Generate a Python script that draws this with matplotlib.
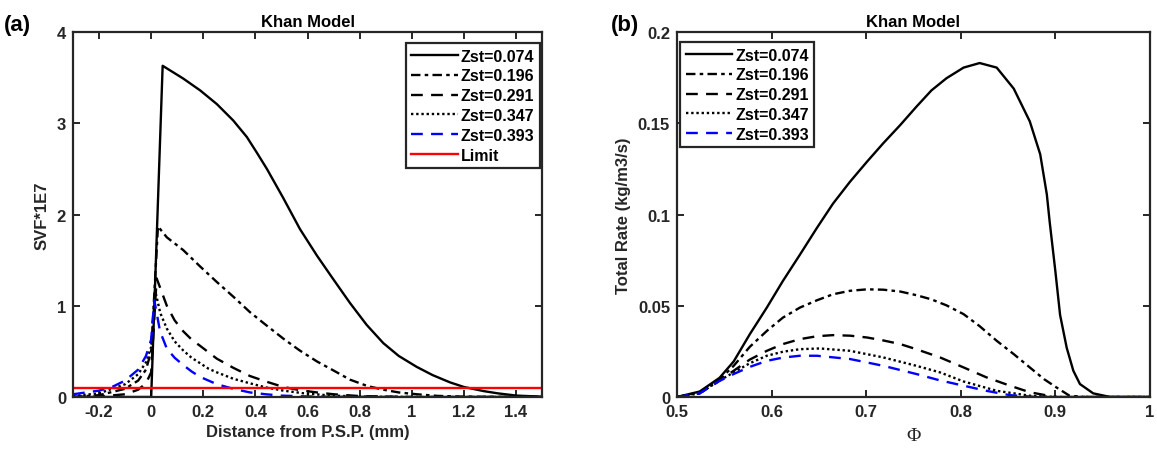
import numpy as np
import matplotlib
matplotlib.use("Agg")
import matplotlib.pyplot as plt

plt.rcParams["font.family"] = ["Liberation Sans", "DejaVu Sans"]
plt.rcParams["font.weight"] = "bold"
plt.rcParams["axes.labelweight"] = "bold"
plt.rcParams["axes.titleweight"] = "bold"

labels = ["Zst=0.074", "Zst=0.196", "Zst=0.291", "Zst=0.347", "Zst=0.393"]
limit_val = 0.1

# (a) SVF*1E7 vs distance from P.S.P. (mm)
x074 = [-0.3, -0.001, 0.0, 0.044, 0.123, 0.188, 0.252, 0.315, 0.367, 0.405, 0.444,
        0.507, 0.571, 0.636, 0.699, 0.763, 0.827, 0.891, 0.95, 1.019, 1.08, 1.147,
        1.2, 1.275, 1.33, 1.403, 1.5]
y074 = [0.0, 0.0, 0.0, 3.63, 3.49, 3.36, 3.21, 3.03, 2.85, 2.68, 2.50,
        2.18, 1.84, 1.55, 1.29, 1.03, 0.79, 0.59, 0.45, 0.33, 0.24, 0.16,
        0.11, 0.065, 0.04, 0.015, 0.004]

x196 = [-0.3, -0.2, -0.1, -0.05, -0.02, 0.0, 0.026, 0.06, 0.123, 0.188, 0.252, 0.315,
        0.379, 0.44, 0.507, 0.57, 0.636, 0.7, 0.763, 0.83, 0.891, 0.95, 1.019, 1.1,
        1.2, 1.5]
y196 = [0.0, 0.02, 0.09, 0.18, 0.30, 0.50, 1.87, 1.75, 1.61, 1.43, 1.26, 1.10,
        0.93, 0.79, 0.64, 0.51, 0.39, 0.29, 0.19, 0.12, 0.08, 0.05, 0.03, 0.012,
        0.004, 0.0]

x291 = [-0.3, -0.2, -0.1, -0.05, -0.02, 0.0, 0.021, 0.06, 0.09, 0.123, 0.155, 0.188,
        0.22, 0.252, 0.315, 0.379, 0.44, 0.507, 0.57, 0.636, 0.7, 0.8, 1.0, 1.5]
y291 = [0.0, 0.005, 0.03, 0.08, 0.15, 0.27, 1.30, 1.00, 0.84, 0.72, 0.63, 0.56,
        0.49, 0.42, 0.32, 0.23, 0.17, 0.11, 0.075, 0.05, 0.03, 0.01, 0.0, 0.0]

x347 = [-0.3, -0.2, -0.1, -0.05, -0.02, 0.0, 0.015, 0.035, 0.06, 0.09, 0.123, 0.155,
        0.188, 0.22, 0.252, 0.315, 0.379, 0.44, 0.507, 0.6, 0.7, 0.8, 1.0, 1.5]
y347 = [0.01, 0.04, 0.14, 0.25, 0.38, 0.55, 1.17, 0.92, 0.75, 0.61, 0.51, 0.43,
        0.37, 0.31, 0.27, 0.20, 0.15, 0.105, 0.07, 0.035, 0.015, 0.005, 0.0, 0.0]

x393 = [-0.3, -0.25, -0.2, -0.15, -0.1, -0.05, -0.02, 0.0, 0.012, 0.034, 0.06, 0.09,
        0.123, 0.155, 0.188, 0.22, 0.252, 0.315, 0.379, 0.44, 0.5, 0.6, 0.7, 1.0, 1.5]
y393 = [0.03, 0.05, 0.07, 0.11, 0.18, 0.30, 0.45, 0.63, 1.06, 0.72, 0.53, 0.43,
        0.35, 0.28, 0.22, 0.18, 0.14, 0.09, 0.05, 0.03, 0.015, 0.006, 0.003, 0.0, 0.0]

# (b) Total rate vs Phi
p074 = [0.5, 0.524, 0.545, 0.560, 0.577, 0.595, 0.612, 0.630, 0.648, 0.665, 0.683,
        0.701, 0.718, 0.736, 0.753, 0.769, 0.785, 0.803, 0.820, 0.838, 0.856, 0.873,
        0.884, 0.891, 0.894, 0.900, 0.905, 0.912, 0.919, 0.926, 0.94, 0.958, 1.0]
r074 = [0.0, 0.003, 0.0105, 0.0195, 0.0344, 0.049, 0.0636, 0.078, 0.0927, 0.106, 0.118,
        0.129, 0.139, 0.149, 0.159, 0.168, 0.1747, 0.1805, 0.183, 0.1805, 0.169, 0.151,
        0.133, 0.111, 0.096, 0.069, 0.045, 0.027, 0.0144, 0.0071, 0.002, 0.0, 0.0]

p196 = [0.5, 0.524, 0.545, 0.560, 0.577, 0.595, 0.612, 0.630, 0.648, 0.665, 0.683,
        0.701, 0.718, 0.736, 0.753, 0.769, 0.785, 0.803, 0.820, 0.838, 0.856, 0.873,
        0.888, 0.901, 0.915, 0.93, 1.0]
r196 = [0.0, 0.0025, 0.0095, 0.0171, 0.0275, 0.0362, 0.0435, 0.049, 0.053, 0.0563, 0.0582,
        0.059, 0.0588, 0.0578, 0.0558, 0.0535, 0.0502, 0.0454, 0.0388, 0.0308, 0.0235, 0.0162,
        0.0098, 0.0053, 0.0007, 0.0, 0.0]

p291 = [0.5, 0.524, 0.545, 0.560, 0.577, 0.595, 0.612, 0.630, 0.648, 0.665, 0.683,
        0.701, 0.718, 0.736, 0.753, 0.778, 0.803, 0.827, 0.852, 0.873, 0.9, 1.0]
r291 = [0.0, 0.002, 0.009, 0.0144, 0.0205, 0.0253, 0.029, 0.0317, 0.0333, 0.0339, 0.0336,
        0.0326, 0.031, 0.029, 0.0262, 0.0217, 0.0162, 0.0108, 0.0062, 0.0026, 0.0, 0.0]

p347 = [0.5, 0.524, 0.545, 0.560, 0.577, 0.595, 0.612, 0.630, 0.651, 0.683, 0.718,
        0.753, 0.778, 0.803, 0.838, 0.873, 0.9, 1.0]
r347 = [0.0, 0.002, 0.009, 0.0135, 0.0185, 0.0226, 0.0248, 0.0262, 0.0266, 0.0253, 0.0217,
        0.0171, 0.0135, 0.0085, 0.0034, 0.0007, 0.0, 0.0]

p393 = [0.5, 0.524, 0.545, 0.560, 0.577, 0.595, 0.612, 0.630, 0.648, 0.683, 0.718,
        0.753, 0.778, 0.803, 0.827, 0.852, 0.88, 1.0]
r393 = [0.0, 0.002, 0.0088, 0.0126, 0.0165, 0.0198, 0.0216, 0.0226, 0.0226, 0.0208, 0.0171,
        0.0126, 0.0091, 0.0062, 0.0034, 0.001, 0.0, 0.0]

styles = [
    dict(color="black", linestyle="-"),
    dict(color="black", linestyle=(0, (4, 1.8, 1.5, 1.8))),
    dict(color="black", linestyle=(0, (5, 3.5))),
    dict(color="black", linestyle=(0, (1, 1.2))),
    dict(color="blue", linestyle=(0, (5, 3.5))),
]
axcol = "#262626"


def style_axes(ax):
    for sp in ax.spines.values():
        sp.set_linewidth(1.6)
        sp.set_color(axcol)
    ax.tick_params(direction="in", top=True, right=True, length=5, width=1.4,
                   colors=axcol, labelsize=12, pad=5)
    for lab in ax.get_xticklabels() + ax.get_yticklabels():
        lab.set_fontweight("bold")


fig = plt.figure(figsize=(11.57, 4.56), dpi=100)
ax1 = fig.add_axes([0.0631, 0.1272, 0.4054, 0.8004])
ax2 = fig.add_axes([0.5851, 0.1272, 0.4088, 0.8004])

for (xx, yy), lab, st in zip([(x074, y074), (x196, y196), (x291, y291), (x347, y347), (x393, y393)],
                             labels, styles):
    ax1.plot(xx, yy, lw=1.7, label=lab, **st)
ax1.axhline(limit_val, color="red", lw=1.7, label="Limit")
ax1.set_xlim(-0.3, 1.5)
ax1.set_ylim(0, 4)
ax1.set_xticks([-0.2, 0, 0.2, 0.4, 0.6, 0.8, 1.0, 1.2, 1.4])
ax1.set_xticklabels(["-0.2", "0", "0.2", "0.4", "0.6", "0.8", "1", "1.2", "1.4"])
ax1.set_yticks([0, 1, 2, 3, 4])
ax1.set_xlabel("Distance from P.S.P. (mm)", fontsize=12, color=axcol, labelpad=4)
ax1.set_ylabel("SVF*1E7", fontsize=12, color=axcol, labelpad=5)
ax1.set_title("Khan Model", fontsize=12, pad=4)
style_axes(ax1)
leg1 = ax1.legend(loc="upper right", bbox_to_anchor=(0.9957, 0.970), borderaxespad=0,
                  fontsize=11.5, handlelength=2.9, handletextpad=0.2,
                  labelspacing=0.3, borderpad=0.35, fancybox=False,
                  framealpha=1, edgecolor=axcol)
leg1.get_frame().set_linewidth(1.6)

for (xx, yy), lab, st in zip([(p074, r074), (p196, r196), (p291, r291), (p347, r347), (p393, r393)],
                             labels, styles):
    ax2.plot(xx, yy, lw=1.7, label=lab, **st)
ax2.set_xlim(0.5, 1.0)
ax2.set_ylim(0, 0.2)
ax2.set_xticks([0.5, 0.6, 0.7, 0.8, 0.9, 1.0])
ax2.set_xticklabels(["0.5", "0.6", "0.7", "0.8", "0.9", "1"])
ax2.set_yticks([0, 0.05, 0.1, 0.15, 0.2])
ax2.set_yticklabels(["0", "0.05", "0.1", "0.15", "0.2"])
ax2.set_xlabel("Φ", fontsize=14, fontweight="normal", color=axcol, labelpad=6,
               family=["Liberation Serif", "DejaVu Serif"])
ax2.set_ylabel("Total Rate (kg/m3/s)", fontsize=12, color=axcol, labelpad=5)
ax2.set_title("Khan Model", fontsize=12, pad=4)
style_axes(ax2)
leg2 = ax2.legend(loc="upper left", bbox_to_anchor=(0.0063, 0.9726), borderaxespad=0,
                  fontsize=11.5, handlelength=2.9, handletextpad=0.2,
                  labelspacing=0.3, borderpad=0.35, fancybox=False,
                  framealpha=1, edgecolor=axcol)
leg2.get_frame().set_linewidth(1.6)

fig.text(0.003, 0.945, "(a)", fontsize=16, fontweight="bold", ha="left", va="center")
fig.text(0.528, 0.945, "(b)", fontsize=16, fontweight="bold", ha="left", va="center")

fig.savefig("out.png", dpi=100)
